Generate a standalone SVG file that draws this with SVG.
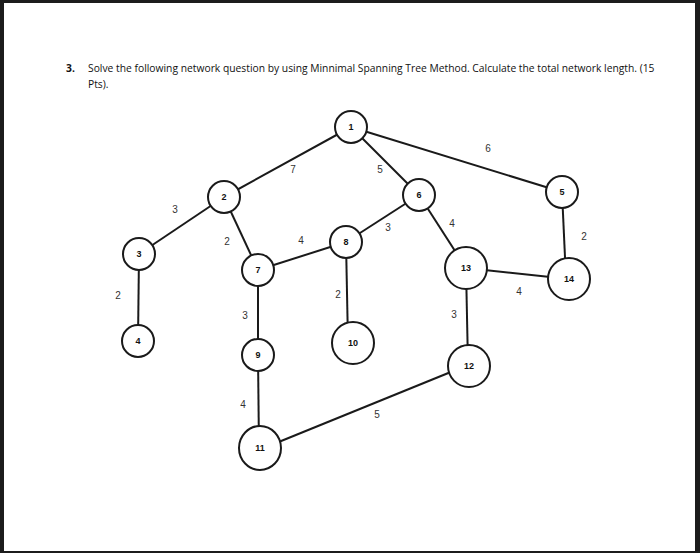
<svg xmlns="http://www.w3.org/2000/svg" width="700" height="553" viewBox="0 0 700 553">
<style>
.n circle,.n ellipse{fill:#fff;stroke:#1a1a1a;stroke-width:2}
.n text{font-family:"Liberation Sans",Arial,sans-serif;font-size:9px;font-weight:bold;text-anchor:middle;fill:#111}
#edges line{stroke:#1a1a1a;stroke-width:2}
.w{font-family:"Liberation Sans",Arial,sans-serif;font-size:10px;fill:#333;text-anchor:middle}
.t{font-family:"Open Sans","Liberation Sans",sans-serif;font-size:10.3px;fill:#111}
</style>
<rect width="700" height="553" fill="#1c1c1c"/>
<rect x="4" y="3" width="691" height="548" fill="#fff"/>
<text class="t" x="66" y="72" font-weight="bold">3.</text>
<text class="t" x="88" y="72">Solve the following network question by using Minnimal Spanning Tree Method. Calculate the total network length. (15</text>
<text class="t" x="88" y="88">Pts).</text>
<g id="edges">
<line x1="351" y1="127" x2="224" y2="197"/>
<line x1="351" y1="127" x2="419" y2="195"/>
<line x1="351" y1="127" x2="562" y2="192"/>
<line x1="224" y1="197" x2="139" y2="254"/>
<line x1="224" y1="197" x2="258" y2="270"/>
<line x1="139" y1="254" x2="138" y2="341"/>
<line x1="258" y1="270" x2="346" y2="242"/>
<line x1="258" y1="270" x2="258" y2="355"/>
<line x1="258" y1="355" x2="259" y2="450"/>
<line x1="346" y1="242" x2="419" y2="195"/>
<line x1="346" y1="242" x2="348" y2="343"/>
<line x1="419" y1="195" x2="466" y2="268"/>
<line x1="562" y1="192" x2="566" y2="279"/>
<line x1="466" y1="268" x2="569" y2="279"/>
<line x1="466" y1="268" x2="468" y2="365"/>
<line x1="468" y1="365" x2="259" y2="450"/>
</g>
<g id="weights">
<text class="w" x="293" y="173">7</text>
<text class="w" x="380" y="173">5</text>
<text class="w" x="488" y="152">6</text>
<text class="w" x="175" y="213">3</text>
<text class="w" x="227" y="245">2</text>
<text class="w" x="301" y="244">4</text>
<text class="w" x="388" y="231">3</text>
<text class="w" x="452" y="227">4</text>
<text class="w" x="584" y="240">2</text>
<text class="w" x="118" y="299">2</text>
<text class="w" x="245" y="319">3</text>
<text class="w" x="338" y="298">2</text>
<text class="w" x="454" y="318">3</text>
<text class="w" x="519" y="295">4</text>
<text class="w" x="243" y="408">4</text>
<text class="w" x="377" y="418">5</text>
</g>
<g id="n1" class="n"><circle cx="351" cy="127" r="16"/><text x="351" y="130">1</text></g>
<g id="n2" class="n"><circle cx="224" cy="197" r="16"/><text x="224" y="200">2</text></g>
<g id="n3" class="n"><circle cx="139" cy="254" r="16"/><text x="139" y="257">3</text></g>
<g id="n4" class="n"><circle cx="138" cy="341" r="16"/><text x="138" y="344">4</text></g>
<g id="n5" class="n"><circle cx="562" cy="192" r="16"/><text x="562" y="195">5</text></g>
<g id="n6" class="n"><circle cx="419" cy="195" r="16"/><text x="419" y="198">6</text></g>
<g id="n7" class="n"><circle cx="258" cy="270" r="16"/><text x="258" y="273">7</text></g>
<g id="n8" class="n"><circle cx="346" cy="242" r="16"/><text x="346" y="245">8</text></g>
<g id="n9" class="n"><circle cx="258" cy="355" r="16"/><text x="258" y="358">9</text></g>
<g id="n10" class="n"><circle cx="353" cy="343" r="21"/><text x="353" y="346">10</text></g>
<g id="n11" class="n"><ellipse cx="260" cy="448" rx="21" ry="22"/><text x="260" y="451">11</text></g>
<g id="n12" class="n"><circle cx="469" cy="366" r="21"/><text x="469" y="369">12</text></g>
<g id="n13" class="n"><circle cx="466" cy="268" r="21"/><text x="466" y="271">13</text></g>
<g id="n14" class="n"><circle cx="569" cy="279" r="21"/><text x="569" y="282">14</text></g>
</svg>
